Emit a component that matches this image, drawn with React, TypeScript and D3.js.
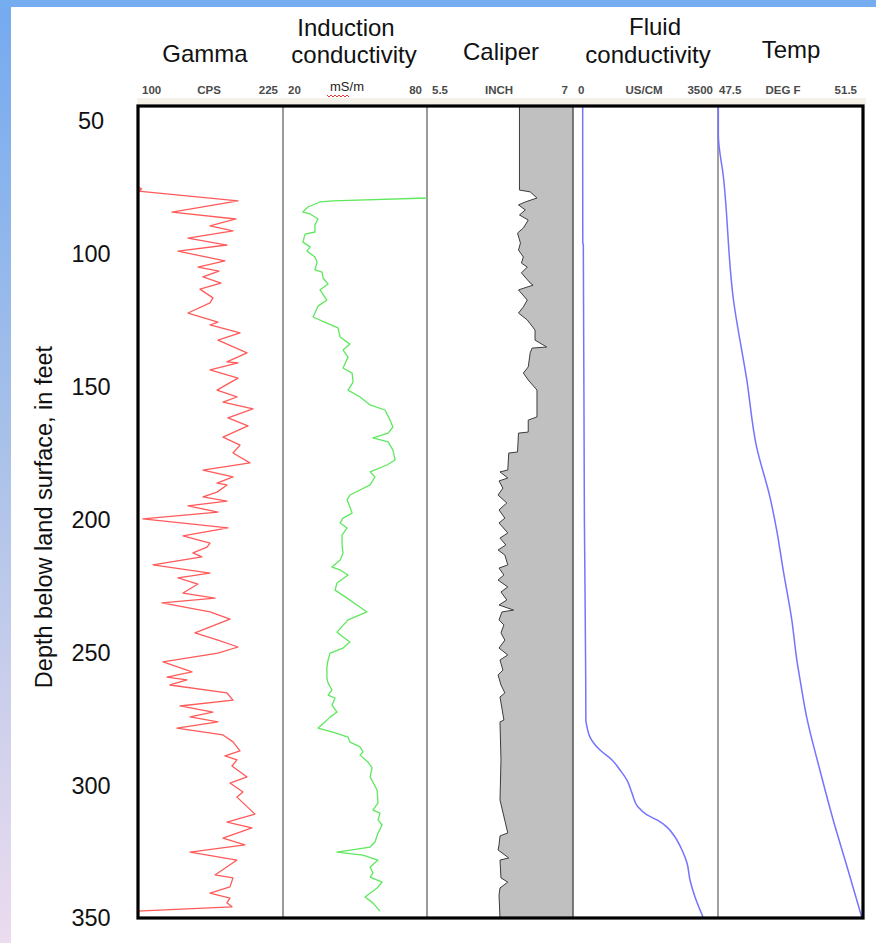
import React from 'react';
import * as d3 from 'd3';

type P = [number, number]; // [depth ft, value]

const depthTicks = [50, 100, 150, 200, 250, 300, 350];
const trackTitles = [["Gamma"], ["Induction", "conductivity"], ["Caliper"], ["Fluid", "conductivity"], ["Temp"]];
const trackUnits = ["CPS", "mS/m", "INCH", "US/CM", "DEG F"];
const trackMin = [100, 20, 5.5, 0, 47.5];
const trackMax = [225, 80, 7, 3500, 51.5];
const trackMinLabel = ["100", "20", "5.5", "0", "47.5"];
const trackMaxLabel = ["225", "80", "7", "3500", "51.5"];
const yTitle = "Depth below land surface, in feet";

const gamma: P[] = [
  [74.5, 100], [75.6, 104], [76.4, 101], [80.1, 186.5], [84.3, 130], [86.9, 184.7], [89.5, 162.5], [91.4, 182.2],
  [94.1, 143.7], [96.7, 177], [99.0, 135.1], [102.7, 175.3], [105.0, 152.2], [106.5, 170.2], [108.7, 156.5],
  [111.0, 171.9], [113.3, 153.9], [116.6, 165], [118.5, 162.5], [122.3, 143.7], [125.7, 169.3], [126.8, 162.5],
  [129.8, 188.2], [132.5, 169.3], [137.3, 194.2], [140.7, 177], [141.1, 186.5], [143.7, 162.5], [146.8, 186.5],
  [151.3, 168.5], [153.9, 185.6], [155.8, 173.6], [158.4, 199.3], [161.8, 177.9], [164.8, 195], [169.0, 173.6],
  [172.0, 188.2], [175.0, 182.2], [178.7, 196.7], [181.4, 156.5], [184.0, 182.2], [186.3, 168.5], [187.0, 177],
  [189.7, 168.5], [191.5, 156.5], [193.1, 177], [194.9, 143.7], [197.2, 169.3], [199.8, 105.1], [203.2, 177.9],
  [206.2, 139.4], [208.9, 162.5], [210.4, 159.9], [212.6, 147.9], [214.1, 155.6], [217.1, 113.7], [220.2, 162.5],
  [222.0, 135.1], [224.3, 152.2], [227.7, 139.4], [229.6, 166.8], [231.4, 121.4], [234.8, 162.5], [237.5, 179.6],
  [242.7, 149.6], [245.4, 169.3], [248.0, 186.5], [250.3, 169.3], [253.6, 122.3], [257.4, 147.1], [259.3, 125.7],
  [260.4, 142.8], [262.3, 128.2], [265.3, 177], [268.0, 182.2], [270.2, 136.8], [272.5, 165], [274.3, 145.4],
  [276.2, 169.3], [278.5, 134.2], [281.1, 173.6], [283.7, 182.2], [287.1, 188.2], [289.0, 175.3], [290.5, 185.6],
  [292.8, 181.3], [296.9, 194.2], [299.2, 179.6], [302.6, 190.7], [304.5, 185.6], [310.9, 201], [313.9, 177],
  [316.1, 198.4], [319.9, 173.6], [322.5, 192.4], [325.2, 145.4], [328.2, 185.6], [333.8, 166.8], [334.9, 182.2],
  [338.3, 179.6], [340.6, 162.5], [342.5, 179.6], [344.3, 177], [345.8, 181.3], [347.4, 100],
];

const induction: P[] = [
  [79.0, 80], [80.1, 40.8], [80.5, 35.4], [82.4, 30.4], [84.3, 28.3], [85.0, 31.3], [86.9, 34.6], [89.2, 33.3],
  [91.8, 33.3], [92.6, 29.2], [95.6, 28.3], [97.4, 31.3], [99.0, 30], [101.2, 33.3], [103.1, 34.2], [106.1, 33.3],
  [106.9, 36.3], [109.1, 36.7], [111.4, 38.8], [113.6, 35.4], [117.4, 38.3], [119.7, 34.6], [122.3, 33.3],
  [123.8, 32.5], [126.1, 38.3], [127.9, 42.9], [131.3, 43.8], [134.0, 47.9], [136.2, 45], [138.9, 47.1],
  [143.0, 45], [144.9, 48.8], [148.3, 49.2], [151.3, 47.1], [153.9, 52.1], [156.9, 56.3], [158.8, 62.5],
  [162.6, 64.6], [165.2, 65.8], [167.5, 63.8], [169.3, 57.5], [170.8, 63.8], [173.9, 65.8], [177.6, 66.7],
  [179.5, 63.3], [182.1, 56.3], [184.0, 58.3], [187.0, 56.3], [188.9, 52.1], [190.8, 47.9], [192.7, 46.7],
  [195.3, 47.9], [197.6, 48.8], [199.5, 45], [201.3, 43.8], [203.2, 46.7], [205.9, 44.6], [209.6, 44.6],
  [212.6, 45], [215.3, 43.8], [217.9, 40.4], [219.0, 43.8], [220.9, 47.1], [223.9, 42.5], [226.6, 41.7],
  [229.6, 46.7], [232.2, 50.8], [234.8, 55], [237.8, 47.1], [242.4, 42.5], [244.2, 45], [246.1, 47.9],
  [248.4, 45], [250.3, 39.6], [252.9, 38.8], [255.5, 38.3], [259.7, 38.3], [261.6, 38.8], [264.2, 40.4],
  [266.1, 38.8], [267.2, 41.7], [269.9, 40.4], [272.5, 42.5], [274.4, 39.6], [276.2, 37.5], [278.5, 34.6],
  [280.0, 40.8], [281.9, 47.1], [283.8, 47.9], [285.6, 52.1], [287.5, 53.3], [288.7, 52.1], [291.3, 55.4],
  [293.5, 57.1], [296.9, 56.3], [301.8, 59.2], [306.7, 59.6], [309.4, 57.5], [310.5, 60.4], [313.1, 59.6],
  [315.0, 61.3], [318.0, 59.6], [321.4, 58.3], [323.3, 56.3], [325.2, 42.5], [326.3, 53.3], [328.2, 59.6],
  [330.8, 56.3], [333.1, 57.5], [334.6, 56.3], [336.5, 61.3], [338.7, 59.2], [342.1, 54.2], [344.4, 57.5],
  [347.4, 60.4],
];

const caliper: P[] = [
  [44.0, 6.45], [67.7, 6.45], [76.0, 6.45], [76.7, 6.56], [79.0, 6.63], [80.5, 6.51], [81.6, 6.44], [83.5, 6.51],
  [85.4, 6.45], [87.3, 6.54], [90.3, 6.49], [92.2, 6.43], [96.0, 6.46], [98.6, 6.44], [101.2, 6.49], [103.5, 6.47],
  [105.0, 6.53], [107.2, 6.47], [111.0, 6.56], [111.8, 6.59], [113.6, 6.44], [117.4, 6.53], [120.0, 6.49],
  [122.3, 6.44], [124.9, 6.53], [128.7, 6.61], [132.5, 6.61], [135.1, 6.73], [135.5, 6.58], [137.3, 6.56],
  [142.6, 6.54], [144.9, 6.49], [147.5, 6.54], [151.3, 6.63], [161.4, 6.63], [162.6, 6.54], [167.1, 6.54],
  [167.5, 6.44], [174.6, 6.43], [175.0, 6.34], [181.4, 6.33], [182.1, 6.25], [184.4, 6.33], [185.5, 6.24],
  [188.2, 6.28], [190.8, 6.23], [193.8, 6.32], [196.4, 6.24], [199.5, 6.30], [201.3, 6.24], [205.1, 6.33],
  [207.0, 6.25], [209.6, 6.31], [211.5, 6.23], [213.4, 6.30], [217.1, 6.33], [218.3, 6.24], [220.9, 6.29],
  [222.8, 6.23], [225.4, 6.33], [227.3, 6.26], [230.3, 6.32], [232.2, 6.24], [234.1, 6.39], [234.8, 6.27],
  [237.8, 6.24], [239.7, 6.29], [242.7, 6.26], [245.4, 6.30], [248.4, 6.24], [251.0, 6.33], [252.9, 6.25],
  [256.7, 6.28], [258.5, 6.23], [262.3, 6.26], [265.3, 6.30], [266.8, 6.25], [275.5, 6.29], [276.2, 6.25],
  [290.5, 6.26], [305.6, 6.25], [318.0, 6.33], [319.1, 6.25], [322.5, 6.24], [324.4, 6.23], [327.4, 6.34],
  [328.2, 6.25], [334.9, 6.26], [336.5, 6.33], [338.7, 6.25], [341.4, 6.24], [350.0, 6.25],
];

const fluid: P[] = [
  [44.0, 234], [95.9, 236], [96.5, 249], [200, 275], [260.4, 307], [275.5, 310], [278.1, 338], [281.9, 410],
  [286.8, 652], [290.5, 941], [294.3, 1135], [298.1, 1303], [303.0, 1424], [308.2, 1569], [311.2, 1786],
  [313.1, 2028], [315.8, 2269], [319.5, 2462], [324.4, 2631], [329.3, 2752], [335.7, 2824], [342.1, 2945],
  [349.6, 3138],
];

const temp: P[] = [
  [44.0, 47.51], [55.3, 47.51], [71.0, 47.65], [117.4, 47.93], [147.5, 48.30], [172.6, 48.57], [191.4, 48.94],
  [204.0, 49.13], [219.0, 49.31], [237.8, 49.55], [252.9, 49.69], [260.4, 49.78], [274.2, 49.96], [294.3, 50.33],
  [313.1, 50.70], [328.2, 51.03], [349.5, 51.49],
];

export default function App() {
  const W = 876, H = 943;
  const top = 105, bottom = 918;
  const edges = [137, 283, 427, 573, 718, 862];
  const font = "'Liberation Sans', Arial, sans-serif";

  const y = d3.scaleLinear().domain([44, 350]).range([top, bottom]);
  const xs = trackMin.map((m, i) => d3.scaleLinear().domain([m, trackMax[i]]).range([edges[i], edges[i + 1]]));

  const lineFor = (sc: d3.ScaleLinear<number, number>, curve: d3.CurveFactory = d3.curveLinear) =>
    d3.line<P>().x(d => sc(d[1])).y(d => y(d[0])).curve(curve);

  const calArea = d3.area<P>().y(d => y(d[0])).x0(d => xs[2](d[1])).x1(edges[3]);

  const headerLayout = [
    { x: [205], y: [62] },
    { x: [346, 354], y: [36, 63] },
    { x: [501], y: [60] },
    { x: [655, 648], y: [35, 63] },
    { x: [791], y: [58] },
  ];
  const unitX = [209, 347, 499, 644, 783];

  return (
    <svg width={W} height={H} style={{ position: 'absolute', left: 0, top: 0, display: 'block' }} fontFamily={font}>
      <defs>
        <linearGradient id="leftband" x1="0" y1="0" x2="0" y2="1">
          <stop offset="0" stopColor="#74aaf0" />
          <stop offset="0.45" stopColor="#a6c0e8" />
          <stop offset="1" stopColor="#ecdcef" />
        </linearGradient>
      </defs>
      <rect x={0} y={0} width={W} height={H} fill="#ffffff" />
      <rect x={0} y={0} width={11} height={H} fill="url(#leftband)" />
      <rect x={0} y={0} width={W} height={7} fill="#76adf0" />

      {/* header titles */}
      {trackTitles.map((lines, i) =>
        lines.map((t, j) => (
          <text key={`h${i}-${j}`} x={headerLayout[i].x[j]} y={headerLayout[i].y[j]} textAnchor="middle"
            fontSize={24} fill="#111">{t}</text>
        ))
      )}

      {/* scale labels */}
      <rect x={137} y={98} width={729} height={7} fill="#f4f1e8" />
      {trackMin.map((_, i) => (
        <g key={`s${i}`} fontSize={11.5} fill="#4a4a4a" fontWeight="bold">
          <text x={edges[i] + (i === 4 ? 1 : 5)} y={94}>{trackMinLabel[i]}</text>
          <text x={unitX[i]} y={i === 1 ? 91 : 94} textAnchor="middle"
            fontWeight={i === 1 ? 'normal' : 'bold'} fontSize={i === 1 ? 13 : 11.5} fill={i === 1 ? '#222' : '#4a4a4a'}>{trackUnits[i]}</text>
          <text x={edges[i + 1] - 5} y={94} textAnchor="end">{trackMaxLabel[i]}</text>
        </g>
      ))}
      <path d="M327,95 l2,2 l2,-2 l2,2 l2,-2 l2,2 l2,-2 l2,2 l2,-2 l2,2 l2,-2 l2,2" fill="none" stroke="#e02020" strokeWidth={0.9} />

      {/* plot background */}
      <rect x={edges[0]} y={top} width={edges[5] - edges[0]} height={bottom - top} fill="#ffffff" />

      {/* caliper fill */}
      <path d={calArea(caliper) || ''} fill="#c0c0c0" />
      <path d={lineFor(xs[2])(caliper) || ''} fill="none" stroke="#3c3c3c" strokeWidth={1} />

      {/* track dividers */}
      <line x1={283} x2={283} y1={top} y2={bottom} stroke="#9a9a9a" strokeWidth={2} />
      <line x1={427} x2={427} y1={top} y2={bottom} stroke="#9a9a9a" strokeWidth={2} />
      <line x1={573} x2={573} y1={top} y2={bottom} stroke="#555" strokeWidth={1.5} />
      <line x1={718} x2={718} y1={top} y2={bottom} stroke="#808080" strokeWidth={1.5} />

      {/* curves */}
      <path d={lineFor(xs[0])(gamma) || ''} fill="none" stroke="#ff5a5a" strokeWidth={1.3} strokeLinejoin="round" />
      <path d={lineFor(xs[1])(induction) || ''} fill="none" stroke="#5ee85e" strokeWidth={1.3} strokeLinejoin="round" />
      <path d={lineFor(xs[3], d3.curveMonotoneY)(fluid) || ''} fill="none" stroke="#7474ff" strokeWidth={1.5} />
      <path d={lineFor(xs[4], d3.curveMonotoneY)(temp) || ''} fill="none" stroke="#7474ff" strokeWidth={1.5} />

      {/* frame */}
      <rect x={edges[0] + 1} y={top + 1} width={edges[5] - edges[0]} height={bottom - top - 1} fill="none" stroke="#000" strokeWidth={3.2} />

      {/* depth ticks */}
      {depthTicks.map(t => (
        <text key={`t${t}`} x={91} y={y(t)} dy="0.36em" textAnchor="middle" fontSize={23.5} fill="#111">{t}</text>
      ))}
      <text transform={`translate(52,517) rotate(-90)`} textAnchor="middle" fontSize={23.5} fill="#111">{yTitle}</text>
    </svg>
  );
}
